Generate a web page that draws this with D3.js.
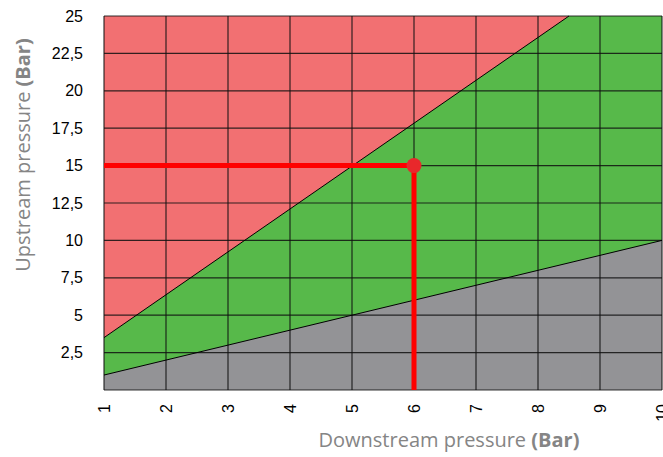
<!DOCTYPE html>
<html>
<head>
<meta charset="utf-8">
<script src="https://cdn.jsdelivr.net/npm/d3@7/dist/d3.min.js"></script>
<style>
html,body{margin:0;padding:0;background:#fff;}
svg{display:block;}
</style>
</head>
<body>
<svg id="chart" width="663" height="457"></svg>
<script>
// ---- data ----
const xTicks = [1, 2, 3, 4, 5, 6, 7, 8, 9, 10];
const yTicks = [2.5, 5, 7.5, 10, 12.5, 15, 17.5, 20, 22.5, 25];
const yTickLabels = ["2,5", "5", "7,5", "10", "12,5", "15", "17,5", "20", "22,5", "25"];
const xDomain = [1, 10];
const yDomain = [0, 25];
// upper limit (red / green boundary): downstream, upstream
const upperLimitX = [1, 8.5];
const upperLimitY = [3.5, 25];
// lower limit (green / grey boundary)
const lowerLimitX = [1, 10];
const lowerLimitY = [1, 10];
// operating point
const pointX = [6];
const pointY = [15];
const xTitle = "Downstream pressure ";
const xTitleBold = "(Bar)";
const yTitle = "Upstream pressure ";
const yTitleBold = "(Bar)";

// ---- layout ----
const svg = d3.select("#chart");
const L = 104, R = 662, T = 16, B = 390;
const x = d3.scaleLinear().domain(xDomain).range([L, R]);
const y = d3.scaleLinear().domain(yDomain).range([B, T]);

const g = svg.append("g");

// red background
g.append("rect").attr("x", x(xDomain[0])).attr("y", y(yDomain[1]))
  .attr("width", x(xDomain[1]) - x(xDomain[0])).attr("height", y(yDomain[0]) - y(yDomain[1]))
  .attr("fill", "#f27072");

const line = d3.line().x(d => x(d[0])).y(d => y(d[1]));
const upper = upperLimitX.map((v, i) => [v, upperLimitY[i]]);
const lower = lowerLimitX.map((v, i) => [v, lowerLimitY[i]]);

// green region: below upper limit
const greenPoly = [[xDomain[0], yDomain[0]], ...upper, [xDomain[1], yDomain[1]], [xDomain[1], yDomain[0]]];
g.append("path").attr("d", line(greenPoly) + "Z").attr("fill", "#57b94a");
// grey region: below lower limit
const greyPoly = [[xDomain[0], yDomain[0]], ...lower, [xDomain[1], yDomain[0]]];
g.append("path").attr("d", line(greyPoly) + "Z").attr("fill", "#939396");

// grid
const grid = g.append("g").attr("stroke", "#111").attr("stroke-opacity", 0.85).attr("stroke-width", 1.2);
xTicks.forEach(t => grid.append("line").attr("x1", x(t)).attr("x2", x(t)).attr("y1", y(yDomain[0])).attr("y2", y(yDomain[1])));
yTicks.forEach(t => grid.append("line").attr("y1", y(t)).attr("y2", y(t)).attr("x1", x(xDomain[0])).attr("x2", x(xDomain[1])));
// bottom axis line
grid.append("line").attr("y1", y(0)).attr("y2", y(0)).attr("x1", x(xDomain[0])).attr("x2", x(xDomain[1]));

// boundary lines
g.append("path").attr("d", line(upper)).attr("stroke", "#000").attr("stroke-width", 1).attr("fill", "none");
g.append("path").attr("d", line(lower)).attr("stroke", "#000").attr("stroke-width", 1).attr("fill", "none");

// operating point guides
const px = pointX[0], py = pointY[0];
g.append("path").attr("d", line([[xDomain[0], py], [px, py], [px, yDomain[0]]]))
  .attr("fill", "none").attr("stroke", "#ff0000").attr("stroke-width", 5);
g.append("circle").attr("cx", x(px)).attr("cy", y(py)).attr("r", 7.5).attr("fill", "#e8282b");

// y-axis labels
const yAxis = d3.axisLeft(y).tickValues(yTicks).tickFormat((d, i) => yTickLabels[i]).tickSize(0).tickPadding(21);
const ya = svg.append("g").attr("transform", `translate(${L},0)`).call(yAxis);
ya.select(".domain").remove();
ya.selectAll("text").attr("font-family", "Liberation Sans, Arial, sans-serif").attr("font-size", 16).attr("fill", "#000");

// x-axis labels (rotated)
const xAxis = d3.axisBottom(x).tickValues(xTicks).tickFormat(d3.format("d")).tickSize(0);
const xa = svg.append("g").attr("transform", `translate(0,${B})`).call(xAxis);
xa.select(".domain").remove();
xa.selectAll("text")
  .attr("font-family", "Liberation Sans, Arial, sans-serif").attr("font-size", 16).attr("fill", "#000")
  .attr("transform", "rotate(-90)").attr("text-anchor", "end")
  .attr("x", -14).attr("y", 0).attr("dy", "0.35em");

// titles
const xt = svg.append("text").attr("x", 449).attr("y", 447).attr("text-anchor", "middle")
  .attr("font-family", "Open Sans, sans-serif").attr("font-size", 20).attr("fill", "#858585");
xt.append("tspan").text(xTitle);
xt.append("tspan").attr("font-weight", "bold").text(xTitleBold);

const yt = svg.append("text").attr("transform", "translate(30,155) rotate(-90)").attr("text-anchor", "middle")
  .attr("font-family", "Open Sans, sans-serif").attr("font-size", 20).attr("fill", "#858585");
yt.append("tspan").text(yTitle);
yt.append("tspan").attr("font-weight", "bold").text(yTitleBold);
</script>
</body>
</html>
